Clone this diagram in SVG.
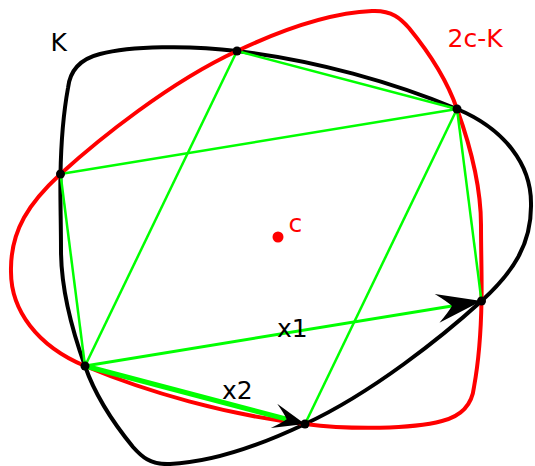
<svg xmlns="http://www.w3.org/2000/svg" xmlns:xlink="http://www.w3.org/1999/xlink" width="535" height="466" viewBox="0 0 535 466">
<style>
.curve{fill:none;stroke-width:4;stroke-linejoin:round}
.chord{stroke:#00ff00;stroke-width:2.5;fill:none}
.vec1{stroke:#00ff00;stroke-width:3;fill:none}
.vec2{stroke:#00ff00;stroke-width:5;fill:none}
.dot{fill:#000}
.lbl{font-family:"DejaVu Sans","Liberation Sans",sans-serif;font-size:25px}
</style>
<defs>
<path id="Kpath" d="M 237,51 C 315,60 395,83 457,109 C 505,129 531,165 531,203 C 532,245 512,273 481.5,301 C 443,336 372,393 305,424 C 265,443 215,462 170,464 C 150,465 141,456 133,447 C 115,425 95,395 85,366 C 72,330 61,290 61,250 C 61,222 60,195 60.5,174 C 61,145 64,110 68,88 C 70,70 80,59 100,54 C 130,46 190,45 237,51 Z"/>
<marker id="ah1" markerUnits="userSpaceOnUse" orient="auto" viewBox="-48 -17 50 34" refX="-30" refY="0" markerWidth="50" markerHeight="34">
<path d="M0,0 L-45,-14.5 Q-34,-5 -30,0 Q-34,5 -45,14.5 Z" fill="#000"/>
</marker>
<marker id="ah2" markerUnits="userSpaceOnUse" orient="auto" viewBox="-35 -15 37 30" refX="-19" refY="0" markerWidth="37" markerHeight="30">
<path d="M0,0 L-32,-12.5 Q-22,-4 -19,0 Q-22,4 -32,12.5 Z" fill="#000"/>
</marker>
</defs>
<g id="K">
<use xlink:href="#Kpath" href="#Kpath" class="curve" stroke="#000"/>
</g>
<g id="K-reflected">
<use xlink:href="#Kpath" href="#Kpath" class="curve" stroke="#ff0000" transform="rotate(180 271 237.5)"/>
</g>
<g id="connectors">
<line class="chord" x1="237" y1="51" x2="457" y2="109"/>
<line class="chord" x1="457" y1="109" x2="481.5" y2="301"/>
<line class="chord" x1="237" y1="51" x2="85" y2="366"/>
<line class="chord" x1="60.5" y1="174" x2="457" y2="109"/>
<line class="chord" x1="60.5" y1="174" x2="85" y2="366"/>
<line class="chord" x1="457" y1="109" x2="305" y2="424"/>
<line class="vec1" x1="85" y1="366" x2="451.9" y2="305.9" marker-end="url(#ah1)"/>
<line class="vec2" x1="85" y1="366" x2="286.6" y2="419.2" marker-end="url(#ah2)"/>
</g>
<g id="points">
<circle class="dot" cx="237" cy="51" r="4.5"/>
<circle class="dot" cx="457" cy="109" r="4.5"/>
<circle class="dot" cx="60.5" cy="174" r="4.5"/>
<circle class="dot" cx="85" cy="366" r="4.5"/>
<circle class="dot" cx="305" cy="424" r="4.5"/>
<circle class="dot" cx="481.5" cy="301" r="4.5"/>
</g>
<g id="center">
<circle cx="278" cy="237" r="5.5" fill="#ff0000"/>
<text class="lbl" x="288.5" y="232" fill="#ff0000">c</text>
</g>
<g id="labels">
<text class="lbl" x="50.5" y="51" fill="#000">K</text>
<text class="lbl" x="447.5" y="47" fill="#ff0000">2c-K</text>
<text class="lbl" x="277" y="337" fill="#000">x1</text>
<text class="lbl" x="222" y="399" fill="#000">x2</text>
</g>
</svg>
